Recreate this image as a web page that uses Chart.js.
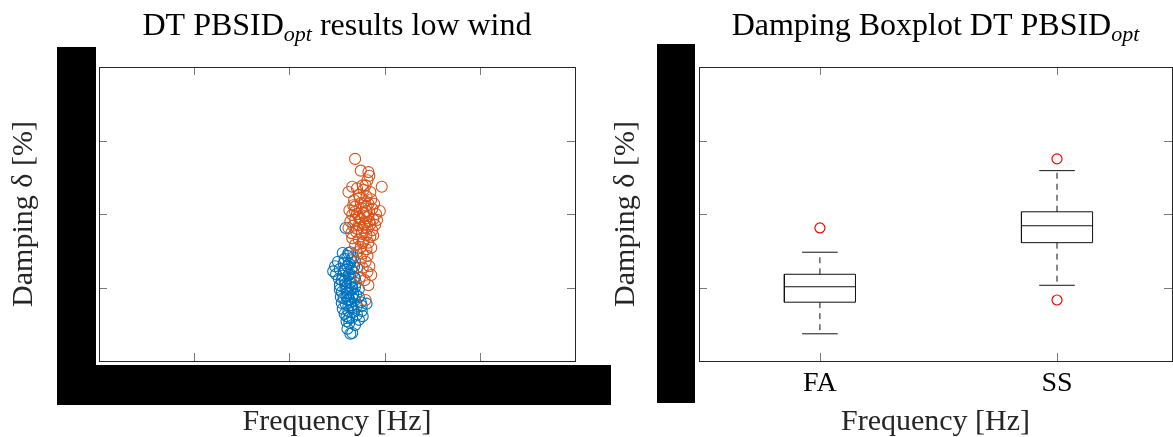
<!DOCTYPE html>
<html lang="en">
<head>
<meta charset="UTF-8">
<title>DT PBSID opt - low wind</title>
<script src="https://cdn.jsdelivr.net/npm/chart.js"></script>
<style>
    body { margin: 0; background: #fff; }
    canvas { position: absolute; top: 0; }
    #scatter { left: 0; }
    #boxes { left: 600px; }
</style>
</head>
<body>
<canvas id="scatter" width="620" height="437"></canvas>
<canvas id="boxes" width="573" height="437"></canvas>
<script>
// identified modes, low wind: frequency [Hz] and damping [%]
const faFreq = [0.2759, 0.2764, 0.2756, 0.2761, 0.2767, 0.2751, 0.2757, 0.2763, 0.2769, 0.2753,
                0.2759, 0.2765, 0.2771, 0.2749, 0.2756, 0.2762, 0.2768, 0.2758, 0.2764, 0.2770,
                0.2753, 0.2760, 0.2766, 0.2773, 0.2755, 0.2761, 0.2767, 0.2757, 0.2763, 0.2769,
                0.2759, 0.2765, 0.2771, 0.2756, 0.2762, 0.2768, 0.2776, 0.2760, 0.2766, 0.2773,
                0.2763, 0.2769, 0.2761, 0.2766, 0.2764, 0.2755, 0.2767, 0.2761, 0.2758, 0.2770,
                0.2754, 0.2764, 0.2759, 0.2769, 0.2762, 0.2758, 0.2765, 0.2752, 0.2775, 0.2760,
                0.2766, 0.2757, 0.2763, 0.2769, 0.2755, 0.2767, 0.2771, 0.2777, 0.2748, 0.2762,
                0.2763, 0.2773, 0.2759, 0.2764, 0.2768, 0.2753, 0.2761, 0.2766, 0.2776, 0.2760,
                0.2746, 0.2781];
const faDamp = [1.81, 1.48, 1.47, 1.43, 1.41, 1.35, 1.33, 1.32, 1.35, 1.25,
                1.24, 1.25, 1.27, 1.18, 1.16, 1.17, 1.14, 1.09, 1.07, 1.06,
                1.03, 1.01, 0.99, 0.98, 0.94, 0.93, 0.91, 0.86, 0.84, 0.83,
                0.78, 0.76, 0.75, 0.71, 0.68, 0.67, 0.68, 0.61, 0.59, 0.56,
                0.52, 0.49, 0.44, 0.38, 0.37, 1.10, 1.21, 1.29, 1.39, 0.90,
                0.87, 0.97, 1.05, 1.13, 0.75, 0.64, 1.37, 1.12, 0.80, 0.88,
                1.05, 1.22, 1.13, 1.01, 0.79, 0.71, 0.63, 0.61, 1.29, 1.47,
                0.59, 0.87, 0.98, 1.18, 1.29, 0.97, 0.83, 0.86, 0.75, 0.54,
                1.22, 0.78];
const ssFreq = [0.2769, 0.2775, 0.2783, 0.2784, 0.2782, 0.2780, 0.2797, 0.2766, 0.2771, 0.2778,
                0.2785, 0.2762, 0.2768, 0.2774, 0.2779, 0.2786, 0.2795, 0.2763, 0.2769, 0.2776,
                0.2781, 0.2787, 0.2791, 0.2766, 0.2771, 0.2778, 0.2783, 0.2788, 0.2764, 0.2769,
                0.2775, 0.2780, 0.2785, 0.2790, 0.2762, 0.2767, 0.2773, 0.2777, 0.2782, 0.2787,
                0.2770, 0.2776, 0.2781, 0.2785, 0.2766, 0.2773, 0.2778, 0.2783, 0.2769, 0.2775,
                0.2781, 0.2786, 0.2771, 0.2777, 0.2782, 0.2775, 0.2780, 0.2784, 0.2777, 0.2782,
                0.2786, 0.2774, 0.2779, 0.2783, 0.2780, 0.2789, 0.2775, 0.2781, 0.2773, 0.2779,
                0.2765, 0.2784, 0.2792, 0.2769, 0.2777, 0.2788, 0.2771, 0.2779, 0.2781, 0.2767,
                0.2783, 0.2777, 0.2773];
const ssDamp = [2.75, 2.59, 2.57, 2.52, 2.46, 2.39, 2.37, 2.37, 2.35, 2.33,
                2.30, 2.30, 2.19, 2.22, 2.16, 2.20, 2.04, 2.05, 2.10, 2.08,
                2.11, 2.07, 2.00, 1.99, 2.00, 2.01, 1.97, 1.93, 1.90, 1.92,
                1.93, 1.89, 1.86, 1.85, 1.81, 1.84, 1.85, 1.81, 1.80, 1.78,
                1.76, 1.73, 1.71, 1.69, 1.67, 1.65, 1.63, 1.61, 1.58, 1.55,
                1.52, 1.54, 1.48, 1.46, 1.43, 1.39, 1.35, 1.29, 1.27, 1.21,
                1.17, 1.14, 1.10, 1.03, 0.83, 2.14, 2.15, 2.04, 1.96, 1.86,
                1.74, 1.90, 1.92, 2.03, 1.61, 1.71, 1.80, 1.97, 2.24, 2.12,
                2.14, 2.39, 2.26];

// boxplot statistics of the damping per mode
const groups = ['FA', 'SS'];
const groupPos = [1, 2];
const whiskLow = [0.37, 1.03];
const q1 = [0.80, 1.61];
const med = [1.01, 1.84];
const q3 = [1.18, 2.03];
const whiskHigh = [1.48, 2.59];
const outliers = [[1.81], [2.75, 0.83]];

const BOX_HALF = 0.15;
const CAP_HALF = 0.075;

const serif = '"Liberation Serif", "Times New Roman", serif';
const ink = '#262626';

// title with an italic subscript
function mathTitle(parts) {
    return {
        id: 'mathTitle',
        afterDraw(chart) {
            const {ctx, chartArea: a} = chart;
            const fonts = {main: '32px ' + serif, sub: 'italic 22px ' + serif};
            ctx.save();
            ctx.fillStyle = '#000';
            ctx.textBaseline = 'alphabetic';
            const widths = parts.map(p => { ctx.font = p.sub ? fonts.sub : fonts.main; return ctx.measureText(p.text).width; });
            let x = (a.left + a.right) / 2 - widths.reduce((s, w) => s + w, 0) / 2;
            parts.forEach((p, i) => {
                ctx.font = p.sub ? fonts.sub : fonts.main;
                ctx.fillText(p.text, x, p.sub ? 41 : 35);
                x += widths[i];
            });
            ctx.restore();
        }
    };
}

// box around the plot with inward ticks on all four sides
function axesBox(tickLen) {
    return {
        id: 'axesBox',
        afterDatasetsDraw(chart) {
            const {ctx, chartArea: a, scales: {x, y}} = chart;
            const inner = (s, v) => Math.abs(v - s.min) > 1e-9 && Math.abs(v - s.max) > 1e-9;
            ctx.save();
            ctx.lineWidth = 1;
            ctx.strokeStyle = '#7a7a7a';
            ctx.beginPath();
            x.ticks.forEach(t => {
                if (!inner(x, t.value)) return;
                const px = Math.round(x.getPixelForValue(t.value)) + 0.5;
                ctx.moveTo(px, a.bottom); ctx.lineTo(px, a.bottom - tickLen);
                ctx.moveTo(px, a.top); ctx.lineTo(px, a.top + tickLen);
            });
            y.ticks.forEach(t => {
                if (!inner(y, t.value)) return;
                const py = Math.round(y.getPixelForValue(t.value)) + 0.5;
                ctx.moveTo(a.left, py); ctx.lineTo(a.left + tickLen, py);
                ctx.moveTo(a.right, py); ctx.lineTo(a.right - tickLen, py);
            });
            ctx.stroke();
            ctx.strokeStyle = ink;
            ctx.strokeRect(a.left + 0.5, a.top + 0.5, a.right - a.left, a.bottom - a.top);
            ctx.restore();
        }
    };
}

// black blocks over the tick labels
function blackout(rects) {
    return {
        id: 'blackout',
        afterDraw(chart) {
            const {ctx, chartArea: a} = chart;
            ctx.save();
            ctx.fillStyle = '#000';
            rects(a).forEach(r => ctx.fillRect(r[0], r[1], r[2] - r[0], r[3] - r[1]));
            ctx.restore();
        }
    };
}

function yAxis(titlePad) {
    return {
        min: 0, max: 4,
        ticks: {display: false, stepSize: 1},
        grid: {display: false, drawTicks: false},
        border: {display: false},
        title: {display: true, text: 'Damping δ [%]', color: ink,
                font: {family: serif, size: 30, lineHeight: 1.2}, padding: {top: titlePad, bottom: 0}},
        afterFit: s => { s.width = 99; }
    };
}

const xTitle = {display: true, text: 'Frequency [Hz]', color: ink,
                font: {family: serif, size: 30, lineHeight: 1}, padding: 0};

const toPoints = (xs, ys) => xs.map((v, i) => ({x: v, y: ys[i]}));

new Chart(document.getElementById('scatter'), {
    type: 'scatter',
    data: {
        datasets: [{
            label: 'FA',
            data: toPoints(faFreq, faDamp),
            borderColor: '#0072BD',
            backgroundColor: 'rgba(0,0,0,0)',
            pointRadius: 5.5,
            borderWidth: 1.1,
            order: 2
        }, {
            label: 'SS',
            data: toPoints(ssFreq, ssDamp),
            borderColor: '#D95319',
            backgroundColor: 'rgba(0,0,0,0)',
            pointRadius: 5.5,
            borderWidth: 1.1,
            order: 1
        }]
    },
    options: {
        responsive: false,
        animation: false,
        layout: {autoPadding: false, padding: {top: 67, right: 45, bottom: 0, left: 0}},
        plugins: {legend: {display: false}, tooltip: {enabled: false}},
        scales: {
            x: {
                min: 0.25, max: 0.30,
                ticks: {display: false, stepSize: 0.01},
                grid: {display: false, drawTicks: false},
                border: {display: false},
                title: xTitle,
                afterFit: s => { s.height = 76; }
            },
            y: yAxis(6)
        }
    },
    plugins: [
        axesBox(8),
        mathTitle([{text: 'DT PBSID'}, {text: 'opt', sub: true}, {text: ' results low wind'}]),
        blackout(a => [[a.left - 42, a.top - 20, a.left - 3, a.bottom + 44],
                       [a.left - 42, a.bottom + 4, a.right + 36, a.bottom + 44]])
    ]
});

// boxplot pieces as line segments on the value axes
const boxSets = [];
function segment(pts, extra) {
    boxSets.push(Object.assign({
        data: pts, showLine: true, pointRadius: 0, borderColor: '#111',
        borderWidth: 1, fill: false
    }, extra));
}
groupPos.forEach((g, i) => {
    segment([{x: g - BOX_HALF, y: q1[i]}, {x: g + BOX_HALF, y: q1[i]}, {x: g + BOX_HALF, y: q3[i]},
             {x: g - BOX_HALF, y: q3[i]}, {x: g - BOX_HALF, y: q1[i]}]);
    segment([{x: g - BOX_HALF, y: med[i]}, {x: g + BOX_HALF, y: med[i]}]);
    segment([{x: g, y: q3[i]}, {x: g, y: whiskHigh[i]}], {borderDash: [6, 5]});
    segment([{x: g, y: q1[i]}, {x: g, y: whiskLow[i]}], {borderDash: [6, 5]});
    segment([{x: g - CAP_HALF, y: whiskHigh[i]}, {x: g + CAP_HALF, y: whiskHigh[i]}]);
    segment([{x: g - CAP_HALF, y: whiskLow[i]}, {x: g + CAP_HALF, y: whiskLow[i]}]);
});
boxSets.push({
    data: outliers.flatMap((vals, i) => vals.map(v => ({x: groupPos[i], y: v}))),
    borderColor: '#FF0000',
    backgroundColor: 'rgba(0,0,0,0)',
    pointRadius: 5,
    borderWidth: 1.2
});

new Chart(document.getElementById('boxes'), {
    type: 'scatter',
    data: {datasets: boxSets},
    options: {
        responsive: false,
        animation: false,
        layout: {autoPadding: false, padding: {top: 67, right: 1, bottom: 0, left: 0}},
        plugins: {legend: {display: false}, tooltip: {enabled: false}},
        scales: {
            x: {
                min: 0.49, max: 2.485,
                afterBuildTicks: s => { s.ticks = groupPos.map(v => ({value: v})); },
                ticks: {
                    callback: (v, i) => groups[i],
                    font: {family: serif, size: 28},
                    color: '#000',
                    padding: 6,
                    maxRotation: 0,
                    autoSkip: false
                },
                grid: {display: false, drawTicks: false},
                border: {display: false},
                title: xTitle,
                afterFit: s => { s.height = 76; }
            },
            y: yAxis(8)
        }
    },
    plugins: [
        axesBox(8),
        mathTitle([{text: 'Damping Boxplot DT PBSID'}, {text: 'opt', sub: true}]),
        blackout(a => [[a.left - 42, a.top - 23, a.left - 4, a.bottom + 42]])
    ]
});
</script>
</body>
</html>
